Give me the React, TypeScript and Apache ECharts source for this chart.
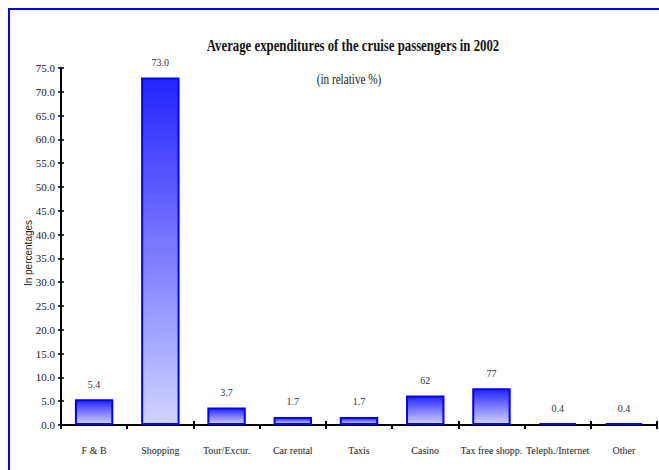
import React, { useEffect, useRef } from "react";
import * as echarts from "echarts";

const categories = [
  "F & B",
  "Shopping",
  "Tour/Excur.",
  "Car rental",
  "Taxis",
  "Casino",
  "Tax free shopp.",
  "Teleph./Internet",
  "Other",
];
const values = [5.4, 73.0, 3.7, 1.7, 1.7, 6.2, 7.7, 0.4, 0.4];
const valueLabels = ["5.4", "73.0", "3.7", "1.7", "1.7", "62", "77", "0.4", "0.4"];
const yMin = 0;
const yMax = 75;
const yInterval = 5;
const titleText = "Average expenditures of the cruise passengers in 2002";
const subtitleText = "(in relative %)";
const yAxisTitle = "In percentages";

const FONT = '"Liberation Serif", "Times New Roman", serif';

export default function App() {
  const ref = useRef<HTMLDivElement>(null);
  useEffect(() => {
    if (!ref.current) return;
    const chart = echarts.init(ref.current, undefined, { renderer: "svg" });
    const option: any = {
      animation: false,
      backgroundColor: "#ffffff",
      grid: { left: 61, right: 2, top: 68, bottom: 45, containLabel: false },
      xAxis: [
        {
          type: "category",
          data: categories,
          position: "bottom",
          axisLine: { show: true, lineStyle: { color: "#000", width: 2 } },
          axisTick: { show: true, length: 4, lineStyle: { color: "#000", width: 2 } },
          axisLabel: {
            color: "#222",
            fontFamily: FONT,
            fontSize: 10,
            margin: 20,
            interval: 0,
          },
          splitLine: { show: false },
        },
        {
          type: "category",
          data: categories,
          position: "bottom",
          axisLine: { show: false },
          axisTick: { show: true, inside: true, length: 4, lineStyle: { color: "#000", width: 2 } },
          axisLabel: { show: false },
          splitLine: { show: false },
        },
      ],
      yAxis: [
        {
          type: "value",
          min: yMin,
          max: yMax,
          interval: yInterval,
          position: "left",
          axisLine: { show: true, lineStyle: { color: "#000", width: 2 } },
          axisTick: { show: true, length: 3, lineStyle: { color: "#000", width: 1.5 } },
          axisLabel: {
            color: "#222",
            fontFamily: FONT,
            fontSize: 11,
            margin: 6,
            formatter: (v: number) => v.toFixed(1),
          },
          splitLine: { show: false },
        },
        {
          type: "value",
          min: yMin,
          max: yMax,
          interval: yInterval,
          position: "left",
          axisLine: { show: false },
          axisTick: { show: true, inside: true, length: 3, lineStyle: { color: "#000", width: 1.5 } },
          axisLabel: { show: false },
          splitLine: { show: false },
        },
      ],
      series: [
        {
          type: "bar",
          xAxisIndex: 0,
          yAxisIndex: 0,
          data: values,
          barWidth: "58%",
          itemStyle: {
            color: new echarts.graphic.LinearGradient(0, 0, 0, 1, [
              { offset: 0, color: "#2424ff" },
              { offset: 1, color: "#d2d2ff" },
            ]),
            borderColor: "#0000ff",
            borderWidth: 2,
          },
          label: {
            show: true,
            position: "top",
            distance: 10,
            color: "#333",
            fontFamily: FONT,
            fontSize: 10,
            formatter: (p: any) => valueLabels[p.dataIndex],
          },
        },
      ],
      graphic: [
        {
          type: "rect",
          shape: { x: 9, y: 9, width: 700, height: 520 },
          style: { fill: "none", stroke: "#0000ff", lineWidth: 2 },
          silent: true,
        },
        {
          type: "text",
          x: 353,
          y: 45,
          scaleX: 0.8,
          style: {
            text: titleText,
            font: `bold 16px ${FONT}`,
            fill: "#111",
            textAlign: "center",
            textVerticalAlign: "middle",
          },
        },
        {
          type: "text",
          x: 349,
          y: 80,
          scaleX: 0.8,
          style: {
            text: subtitleText,
            font: `14px ${FONT}`,
            fill: "#222",
            textAlign: "center",
            textVerticalAlign: "middle",
          },
        },
        {
          type: "text",
          x: 28,
          y: 253,
          rotation: Math.PI / 2,
          style: {
            text: yAxisTitle,
            font: `10px "Liberation Sans", Arial, sans-serif`,
            fill: "#222",
            textAlign: "center",
            textVerticalAlign: "middle",
          },
        },
      ],
    };
    chart.setOption(option);
    return () => chart.dispose();
  }, []);
  return (
    <div
      ref={ref}
      style={{ position: "absolute", left: 0, top: 0, width: 659, height: 470 }}
    />
  );
}
